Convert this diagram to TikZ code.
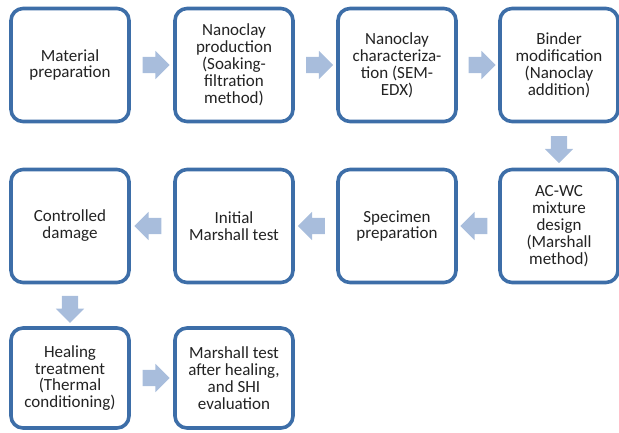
\documentclass[tikz,border=0pt]{standalone}
\usepackage{fontspec}
\setmainfont{Carlito}
\usetikzlibrary{shapes.arrows,calc}
\definecolor{boxblue}{RGB}{61,110,168}
\definecolor{arrowblue}{RGB}{168,189,220}
\definecolor{txtgrey}{RGB}{35,35,35}
\begin{document}
\begin{tikzpicture}[x=1bp, y=-1bp, line join=round,
	step box/.style={draw=boxblue, line width=3.6bp, rounded corners=12bp, fill=white,
		minimum width=118bp, minimum height=113bp, align=center, text=txtgrey,
		font=\fontsize{17bp}{16.9bp}\selectfont},
	low box/.style={step box, minimum height=100bp},
	flow arrow/.style={single arrow, fill=arrowblue, draw=none, inner sep=8bp,
		minimum height=27bp, single arrow head extend=6bp,
		single arrow head indent=0pt}]
	\useasboundingbox (0,0) rectangle (619,432);
	% first row
	\node[step box] (mat) at (70,65) {Material\\preparation};
	\node[step box] (prod) at (234,65) {Nanoclay\\production\\(Soaking-\\filtration\\method)};
	\node[step box] (char) at (397,65) {Nanoclay\\characteriza-\\tion (SEM-\\EDX)};
	\node[step box] (bind) at (559,65) {Binder\\modification\\(Nanoclay\\addition)};
	% second row
	\node[step box] (mix) at (559,226) {AC-WC\\mixture\\design\\(Marshall\\method)};
	\node[step box] (spec) at (397,226) {Specimen\\preparation};
	\node[step box] (init) at (234,226) {Initial\\Marshall test};
	\node[step box] (dmg) at (70,226) {Controlled\\damage};
	% third row
	\node[low box] (heal) at (70,378) {Healing\\treatment\\(Thermal\\conditioning)};
	\node[low box] (final) at (234,378) {Marshall test\\after healing,\\and SHI\\evaluation};
	% arrows
	\node[flow arrow] (a1) at ($(mat.east)!0.5!(prod.west)$) {};
	\node[flow arrow] (a2) at ($(prod.east)!0.5!(char.west)$) {};
	\node[flow arrow] (a3) at ($(char.east)!0.5!(bind.west)$) {};
	\node[flow arrow, shape border rotate=270] (a4) at ($(bind.south)!0.5!(mix.north)$) {};
	\node[flow arrow, shape border rotate=180] (a5) at ($(mix.west)!0.5!(spec.east)$) {};
	\node[flow arrow, shape border rotate=180] (a6) at ($(spec.west)!0.5!(init.east)$) {};
	\node[flow arrow, shape border rotate=180] (a7) at ($(init.west)!0.5!(dmg.east)$) {};
	\node[flow arrow, shape border rotate=270] (a8) at ($(dmg.south)!0.5!(heal.north)$) {};
	\node[flow arrow] (a9) at ($(heal.east)!0.5!(final.west)$) {};
\end{tikzpicture}
\end{document}
